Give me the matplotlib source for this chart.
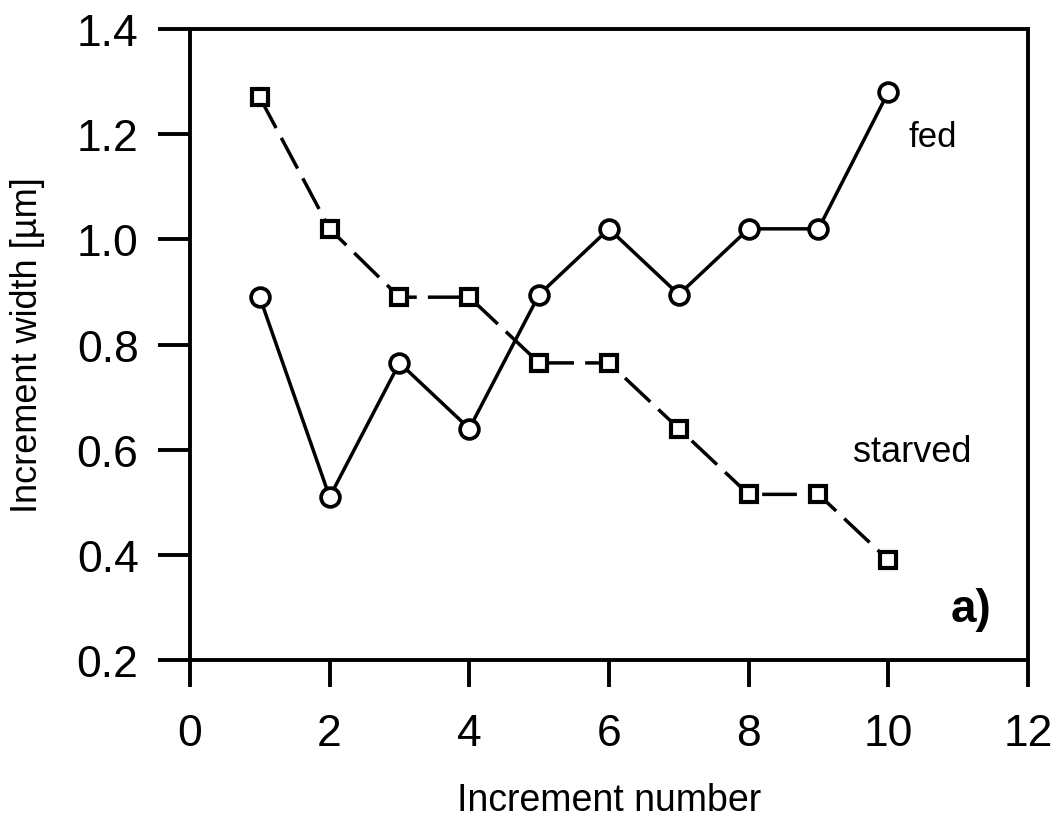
import numpy as np
import matplotlib
matplotlib.use("Agg")
import matplotlib.pyplot as plt

# =========================
# DATA
# =========================
increment = [1, 2, 3, 4, 5, 6, 7, 8, 9, 10]
fed = [0.89, 0.51, 0.765, 0.64, 0.895, 1.02, 0.895, 1.02, 1.02, 1.28]
starved = [1.27, 1.02, 0.89, 0.89, 0.765, 0.765, 0.64, 0.515, 0.515, 0.39]

x_ticks = [0, 2, 4, 6, 8, 10, 12]
y_ticks = [0.2, 0.4, 0.6, 0.8, 1.0, 1.2, 1.4]


# =========================
# STYLE
# =========================
plt.rcParams["font.family"] = ["Liberation Sans", "DejaVu Sans"]

fig = plt.figure(figsize=(10.6, 8.2), dpi=100)
ax = fig.add_axes([0.1792, 0.1939, 0.7906, 0.7695])

# fed: solid line, open circles
ax.plot(increment, fed, color="black", lw=2.5, marker="o", ms=13.5,
        mfc="white", mec="black", mew=2.7, zorder=3)

# starved: long dashes, open squares
ax.plot(increment, starved, color="black", lw=2.5, dashes=(10, 3.2), marker="s",
        ms=12, mfc="white", mec="black", mew=3.0, zorder=3)

ax.set_xlim(0, 12)
ax.set_ylim(0.2, 1.4)
ax.set_xticks(x_ticks)
ax.set_yticks(y_ticks)
ax.set_xticklabels([str(v) for v in x_ticks])
ax.set_yticklabels([f"{v:.1f}" for v in y_ticks])

for s in ax.spines.values():
    s.set_linewidth(2.8)

ax.tick_params(axis="y", direction="out", length=23, width=2.8, pad=14, labelsize=32)
ax.tick_params(axis="x", direction="out", length=19.5, width=2.8, pad=19, labelsize=32)

ax.set_xlabel("Increment number", fontsize=27, labelpad=20)
ax.set_ylabel("Increment width [µm]", fontsize=26, labelpad=23)

# annotations
ax.text(10.29, 1.178, "fed", fontsize=25)
ax.text(9.5, 0.579, "starved", fontsize=26)
ax.text(10.89, 0.275, "a)", fontsize=33, fontweight="bold")

fig.savefig("out.png", dpi=100)
